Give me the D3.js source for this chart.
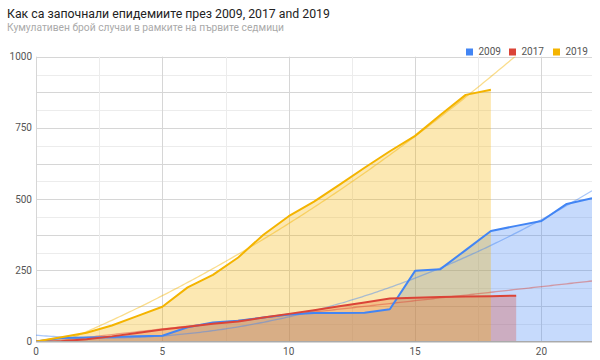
<!DOCTYPE html>
<html><head><meta charset="utf-8">
<script src="https://cdn.jsdelivr.net/npm/d3@7"></script>
<style>body{margin:0;background:#fff} svg{display:block;font-family:Roboto, Arial, sans-serif}</style>
</head><body><svg id="c" width="600" height="360"></svg>
<script>
const title = "Как са започнали епидемиите през 2009, 2017 and 2019";
const subtitle = "Кумулативен брой случаи в рамките на първите седмици";
const seriesNames = ["2009", "2017", "2019"];
const weeks = [0,1,2,3,4,5,6,7,8,9,10,11,12,13,14,15,16,17,18,19,20,21,22];
const cases2009 = [0,12,14,16,18,20,50,67,73,84,95,100,100,101,113,248,254,321,388,406,423,483,503];
const cases2017 = [0,1,8,18,30,42,52,62,70,84,97,110,124,137,151,154,156,158,159,161];
const cases2019 = [0,15,31,56,89,122,190,234,295,375,440,491,550,610,668,722,795,866,884];
const xTicks = [0,5,10,15,20];
const yTicks = [0,250,500,750,1000];
const colors = ["#4285f4","#db4437","#f4b400"];

const svg = d3.select("#c");
const x = d3.scaleLinear().domain([0,22]).range([36,592]);
const y = d3.scaleLinear().domain([0,1000]).range([341.5,56.7]);

// title
svg.append("text").attr("x",7).attr("y",17.5).attr("font-size",12.3).attr("fill","#222").text(title);
svg.append("text").attr("x",7).attr("y",31).attr("font-size",10.25).attr("fill","#aaa").text(subtitle);

// clip
svg.append("clipPath").attr("id","plot").append("rect")
  .attr("x",x(0)).attr("y",y(1000)).attr("width",x(22)-x(0)).attr("height",y(0)-y(1000));

// gridlines
const g = svg.append("g");
d3.range(0,1000.1,62.5).forEach(v=>{
  const major = v % 125 === 0;
  g.append("line").attr("x1",x(0)).attr("x2",x(22)).attr("y1",Math.round(y(v))+0.5).attr("y2",Math.round(y(v))+0.5)
   .attr("stroke", major ? "#d6d6d6" : "#ececec").attr("stroke-width",1);
});
d3.range(0,22.01,2.5).forEach(v=>{
  g.append("line").attr("y1",y(0)).attr("y2",y(1000)).attr("x1",Math.round(x(v))+0.5).attr("x2",Math.round(x(v))+0.5)
   .attr("stroke", v % 5 === 0 ? "#d6d6d6" : "#ececec").attr("stroke-width",1);
});

const data = [cases2009, cases2017, cases2019].map((arr,i)=>({name:seriesNames[i], color:colors[i], pts:arr.map((v,j)=>[weeks[j],v])}));

const area = d3.area().x(d=>x(d[0])).y0(y(0)).y1(d=>y(d[1]));
const line = d3.line().x(d=>x(d[0])).y(d=>y(d[1]));

const plot = svg.append("g").attr("clip-path","url(#plot)");
data.forEach(s=>{
  plot.append("path").datum(s.pts).attr("d",area).attr("fill",s.color).attr("fill-opacity",0.3);
});

// least-squares trendlines computed from the data
function polyfit(pts, deg){
  const n = deg+1;
  const A = Array.from({length:n},()=>new Array(n+1).fill(0));
  pts.forEach(([xv,yv])=>{
    for(let r=0;r<n;r++){
      for(let c=0;c<n;c++) A[r][c]+=Math.pow(xv,r+c);
      A[r][n]+=yv*Math.pow(xv,r);
    }
  });
  for(let i=0;i<n;i++){
    let p=i; for(let k=i+1;k<n;k++) if(Math.abs(A[k][i])>Math.abs(A[p][i])) p=k;
    [A[i],A[p]]=[A[p],A[i]];
    for(let k=i+1;k<n;k++){const f=A[k][i]/A[i][i]; for(let c=i;c<=n;c++) A[k][c]-=f*A[i][c];}
  }
  const coef=new Array(n).fill(0);
  for(let i=n-1;i>=0;i--){let s=A[i][n]; for(let c=i+1;c<n;c++) s-=A[i][c]*coef[c]; coef[i]=s/A[i][i];}
  return coef;
}
const trendDeg = [2,1,2];
data.forEach((s,i)=>{
  const coef = polyfit(s.pts, trendDeg[i]);
  const f = t=>coef.reduce((acc,c,k)=>acc+c*Math.pow(t,k),0);
  const tp = d3.range(0,22.001,0.1).map(t=>[t,f(t)]);
  plot.append("path").datum(tp).attr("d",line).attr("fill","none").attr("stroke",s.color)
    .attr("stroke-opacity",0.45).attr("stroke-width",1.3);
});
data.forEach(s=>{
  plot.append("path").datum(s.pts).attr("d",line).attr("fill","none").attr("stroke",s.color).attr("stroke-width",2).attr("stroke-linejoin","round");
});

// baseline
svg.append("line").attr("x1",x(0)).attr("x2",x(22)).attr("y1",y(0)).attr("y2",y(0)).attr("stroke","#aaa").attr("stroke-width",1);

// axes labels
svg.append("g").selectAll("text").data(yTicks).join("text")
  .attr("x",32).attr("y",d=>y(d)).attr("dy","0.35em").attr("text-anchor","end")
  .attr("font-size",10).attr("fill","#555").text(d=>d);
svg.append("g").selectAll("text").data(xTicks).join("text")
  .attr("x",d=>x(d)).attr("y",355).attr("text-anchor","middle")
  .attr("font-size",10).attr("fill","#555").text(d=>d);

// legend
const legX = [466,509,553];
const lg = svg.append("g");
data.forEach((s,i)=>{
  lg.append("rect").attr("x",legX[i]).attr("y",48.5).attr("width",7).attr("height",7).attr("fill",s.color);
  lg.append("text").attr("x",legX[i]+12.5).attr("y",55).attr("font-size",10).attr("fill","#555").text(s.name);
});
</script></body></html>
